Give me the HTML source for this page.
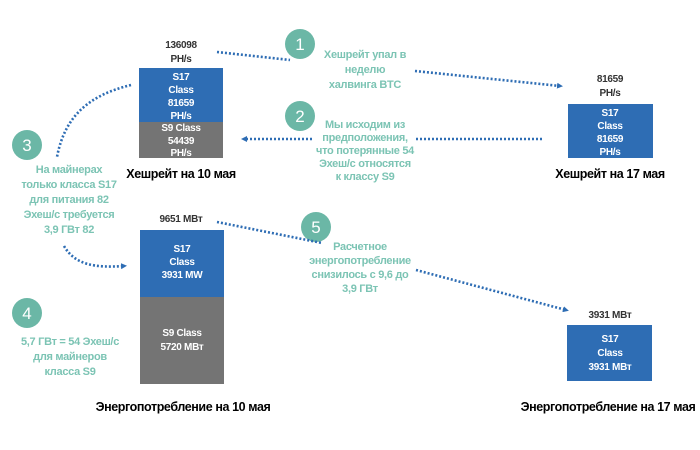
<!DOCTYPE html>
<html><head><meta charset="utf-8"><style>
html,body{margin:0;padding:0;background:#fff;}
svg{display:block;font-family:"Liberation Sans",Arial,sans-serif;font-weight:bold;}
.w{fill:#fff;font-size:10px;letter-spacing:-0.3px;}
.k{fill:#333;font-size:10px;letter-spacing:-0.3px;}
.t{fill:#7cc4b4;font-size:11px;letter-spacing:-0.3px;}
.b{fill:#000;font-size:12.5px;letter-spacing:-0.4px;}
.c{fill:#6bb7a6;}
.cn{fill:#fff;font-size:17px;font-weight:normal;}
.d{stroke:#2e6db4;stroke-width:2.6;stroke-dasharray:2 2;fill:none;}
</style></head><body>
<svg width="700" height="450" viewBox="0 0 700 450">
<defs><marker id="a" markerWidth="6" markerHeight="6" refX="3" refY="3" orient="auto" markerUnits="userSpaceOnUse" viewBox="0 0 6 6"><path d="M0,0L6,3L0,6z" fill="#2e6db4"/></marker></defs>

<text class="k" x="181" y="48" text-anchor="middle">136098</text>
<text class="k" x="181" y="62" text-anchor="middle">PH/s</text>
<rect x="139" y="68" width="84" height="54" fill="#2e6db4"/>
<rect x="139" y="122" width="84" height="36" fill="#747474"/>
<text class="w" text-anchor="middle" x="181" y="80">S17</text>
<text class="w" text-anchor="middle" x="181" y="93">Class</text>
<text class="w" text-anchor="middle" x="181" y="106">81659</text>
<text class="w" text-anchor="middle" x="181" y="119">PH/s</text>
<text class="w" text-anchor="middle" x="181" y="131">S9 Class</text>
<text class="w" text-anchor="middle" x="181" y="144">54439</text>
<text class="w" text-anchor="middle" x="181" y="156">PH/s</text>
<text class="b" text-anchor="middle" x="181" y="178">Хешрейт на 10 мая</text>

<text class="k" x="610" y="82" text-anchor="middle">81659</text>
<text class="k" x="610" y="96" text-anchor="middle">PH/s</text>
<rect x="568" y="104" width="85" height="54" fill="#2e6db4"/>
<text class="w" text-anchor="middle" x="610" y="116">S17</text>
<text class="w" text-anchor="middle" x="610" y="129">Class</text>
<text class="w" text-anchor="middle" x="610" y="142">81659</text>
<text class="w" text-anchor="middle" x="610" y="155">PH/s</text>
<text class="b" text-anchor="middle" x="610" y="178">Хешрейт на 17 мая</text>

<text class="k" x="181" y="222" text-anchor="middle">9651 МВт</text>
<rect x="140" y="230" width="84" height="67" fill="#2e6db4"/>
<rect x="140" y="297" width="84" height="87" fill="#747474"/>
<text class="w" text-anchor="middle" x="182" y="252">S17</text>
<text class="w" text-anchor="middle" x="182" y="265">Class</text>
<text class="w" text-anchor="middle" x="182" y="278">3931 MW</text>
<text class="w" text-anchor="middle" x="182" y="336">S9 Class</text>
<text class="w" text-anchor="middle" x="182" y="350">5720 МВт</text>
<text class="b" text-anchor="middle" x="183" y="411">Энергопотребление на 10 мая</text>

<text class="k" x="610" y="318" text-anchor="middle">3931 МВт</text>
<rect x="567" y="325" width="85" height="56" fill="#2e6db4"/>
<text class="w" text-anchor="middle" x="610" y="342">S17</text>
<text class="w" text-anchor="middle" x="610" y="356">Class</text>
<text class="w" text-anchor="middle" x="610" y="370">3931 МВт</text>
<text class="b" text-anchor="middle" x="608" y="411">Энергопотребление на 17 мая</text>

<circle class="c" cx="300" cy="44" r="15"/><text class="cn" x="300" y="50" text-anchor="middle">1</text>
<circle class="c" cx="300" cy="116" r="15"/><text class="cn" x="300" y="122" text-anchor="middle">2</text>
<circle class="c" cx="27" cy="145" r="15"/><text class="cn" x="27" y="151" text-anchor="middle">3</text>
<circle class="c" cx="27" cy="313" r="15"/><text class="cn" x="27" y="319" text-anchor="middle">4</text>
<circle class="c" cx="316" cy="227" r="15"/><text class="cn" x="316" y="233" text-anchor="middle">5</text>

<g class="t" text-anchor="middle">
<text x="365" y="58">Хешрейт упал в</text>
<text x="365" y="73">неделю</text>
<text x="365" y="88">халвинга BTC</text>
<text x="365" y="128">Мы исходим из</text>
<text x="365" y="141">предположения,</text>
<text x="365" y="154">что потерянные 54</text>
<text x="365" y="167">Эхеш/с относятся</text>
<text x="365" y="180">к классу S9</text>
<text x="69" y="173">На майнерах</text>
<text x="69" y="188">только класса S17</text>
<text x="69" y="203">для питания 82</text>
<text x="69" y="218">Эхеш/с требуется</text>
<text x="69" y="233">3,9 ГВт 82</text>
<text x="70" y="345">5,7 ГВт = 54 Эхеш/с</text>
<text x="70" y="360">для майнеров</text>
<text x="70" y="375">класса S9</text>
<text x="360" y="250">Расчетное</text>
<text x="360" y="264">энергопотребление</text>
<text x="360" y="278">снизилось с 9,6 до</text>
<text x="360" y="292">3,9 ГВт</text>
</g>

<path class="d" d="M217,52 L290,60"/>
<path class="d" d="M415,71 L560,86" marker-end="url(#a)"/>
<path class="d" d="M542,139 L416,139"/>
<path class="d" d="M312,139 L244,139" marker-end="url(#a)"/>
<path class="d" d="M131,85 C90,95 65,115 57,157"/>
<path class="d" d="M64,246 C75,265 95,268 124,266" marker-end="url(#a)"/>
<path class="d" d="M217,222 L322,243"/>
<path class="d" d="M416,270 L566,310" marker-end="url(#a)"/>
</svg>
</body></html>
